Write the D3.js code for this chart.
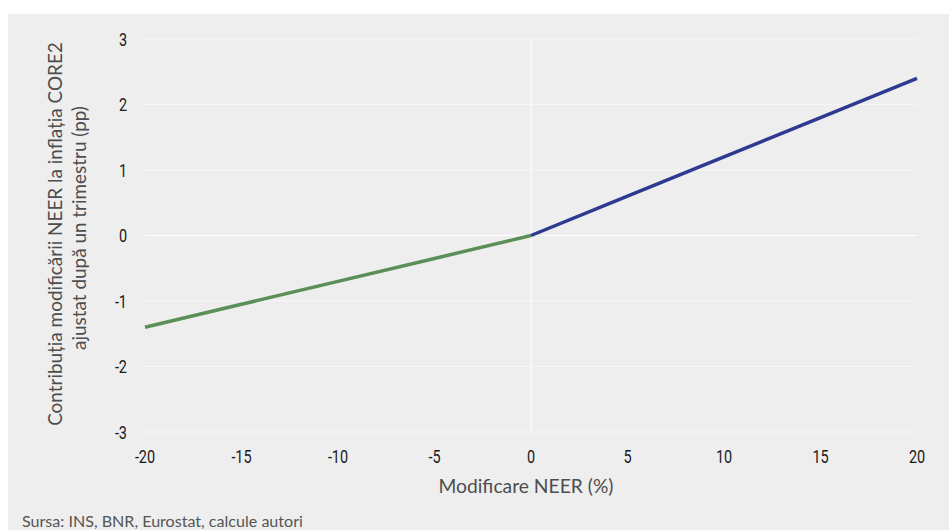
<!DOCTYPE html>
<html>
<head>
<meta charset="utf-8">
<script src="https://cdn.jsdelivr.net/npm/d3@7"></script>
<style>
  body { margin: 0; background: #fff; }
  svg { display: block; }
  .tick-label { font-family: Roboto, "Liberation Sans", sans-serif; font-size: 19px; fill: #1a1a1a; }
  .title { font-family: Lato, "Open Sans", sans-serif; font-size: 19px; fill: #4d4d4d; }
</style>
</head>
<body>
<div id="chart"></div>
<script>
// data
var xTicks = [-20, -15, -10, -5, 0, 5, 10, 15, 20];
var yTicks = [-3, -2, -1, 0, 1, 2, 3];

var depreciationX = [-20, -15, -10, -5, 0];
var depreciationY = [-1.4, -1.05, -0.7, -0.35, 0];
var appreciationX = [0, 5, 10, 15, 20];
var appreciationY = [0, 0.6, 1.2, 1.8, 2.4];

var width = 949, height = 530;

var svg = d3.select('#chart')
  .append('svg')
  .attr('width', width)
  .attr('height', height);

// scale font so the text takes about the width it has in the original
function fitWidth(sel, target) {
  var node = sel.node();
  var size = parseFloat(getComputedStyle(node).fontSize);
  var w = node.getComputedTextLength();
  if (w > 0) sel.style('font-size', (size * target / w).toFixed(2) + 'px');
}

// narrow the glyphs to mimic the condensed face of the original
function condense(sel, factor) {
  sel.each(function () {
    var w = this.getComputedTextLength();
    d3.select(this)
      .attr('textLength', (w * factor).toFixed(2))
      .attr('lengthAdjust', 'spacingAndGlyphs');
  });
}

// grey panel
svg.append('rect')
  .attr('x', 8)
  .attr('y', 14)
  .attr('width', width - 8)
  .attr('height', height - 14)
  .attr('fill', '#eeeeee');

var x = d3.scaleLinear().domain([-20, 20]).range([145, 917]);
var y = d3.scaleLinear().domain([-3, 3]).range([432, 39]);

// horizontal grid lines (dotted), zero line solid
svg.append('g')
  .selectAll('line')
  .data(yTicks)
  .enter()
  .append('line')
  .attr('x1', x(-20))
  .attr('x2', x(20))
  .attr('y1', function (d) { return y(d); })
  .attr('y2', function (d) { return y(d); })
  .attr('stroke', '#fff')
  .attr('stroke-width', 1)
  .attr('stroke-dasharray', function (d) { return d === 0 ? null : '1,1'; });

// vertical zero line
svg.append('line')
  .attr('x1', x(0))
  .attr('x2', x(0))
  .attr('y1', y(3))
  .attr('y2', y(-3))
  .attr('stroke', '#fff')
  .attr('stroke-width', 1);

// tick labels
var yLabels = svg.append('g')
  .selectAll('text')
  .data(yTicks)
  .enter()
  .append('text')
  .attr('class', 'tick-label')
  .attr('x', 127)
  .attr('y', function (d) { return y(d); })
  .attr('dy', '0.36em')
  .attr('text-anchor', 'end')
  .text(function (d) { return d; });

var xLabels = svg.append('g')
  .selectAll('text')
  .data(xTicks)
  .enter()
  .append('text')
  .attr('class', 'tick-label')
  .attr('x', function (d) { return x(d); })
  .attr('y', 463)
  .attr('text-anchor', 'middle')
  .text(function (d) { return d; });

condense(yLabels, 0.76);
condense(xLabels, 0.76);

// lines
var line = d3.line()
  .x(function (d) { return x(d[0]); })
  .y(function (d) { return y(d[1]); });

svg.append('path')
  .datum(d3.zip(depreciationX, depreciationY))
  .attr('d', line)
  .attr('fill', 'none')
  .attr('stroke', '#5a8f57')
  .attr('stroke-width', 3.5);

svg.append('path')
  .datum(d3.zip(appreciationX, appreciationY))
  .attr('d', line)
  .attr('fill', 'none')
  .attr('stroke', '#2e3a91')
  .attr('stroke-width', 3.5);

// axis titles
var xTitle = svg.append('text')
  .attr('class', 'title')
  .attr('x', 526)
  .attr('y', 493)
  .attr('text-anchor', 'middle')
  .text('Modificare NEER (%)');
fitWidth(xTitle, 175);

var yTitle1 = svg.append('text')
  .attr('class', 'title')
  .attr('transform', 'translate(62,234) rotate(-90)')
  .attr('text-anchor', 'middle')
  .text('Contribuția modificării NEER la inflația CORE2');
fitWidth(yTitle1, 384);

var yTitle2 = svg.append('text')
  .attr('class', 'title')
  .attr('transform', 'translate(86,228) rotate(-90)')
  .attr('text-anchor', 'middle')
  .text('ajustat după un trimestru (pp)');
yTitle2.style('font-size', yTitle1.style('font-size'));

// source
var source = svg.append('text')
  .attr('class', 'title')
  .attr('x', 22)
  .attr('y', 527)
  .style('fill', '#555')
  .text('Sursa: INS, BNR, Eurostat, calcule autori');
fitWidth(source, 281);
</script>
</body>
</html>
